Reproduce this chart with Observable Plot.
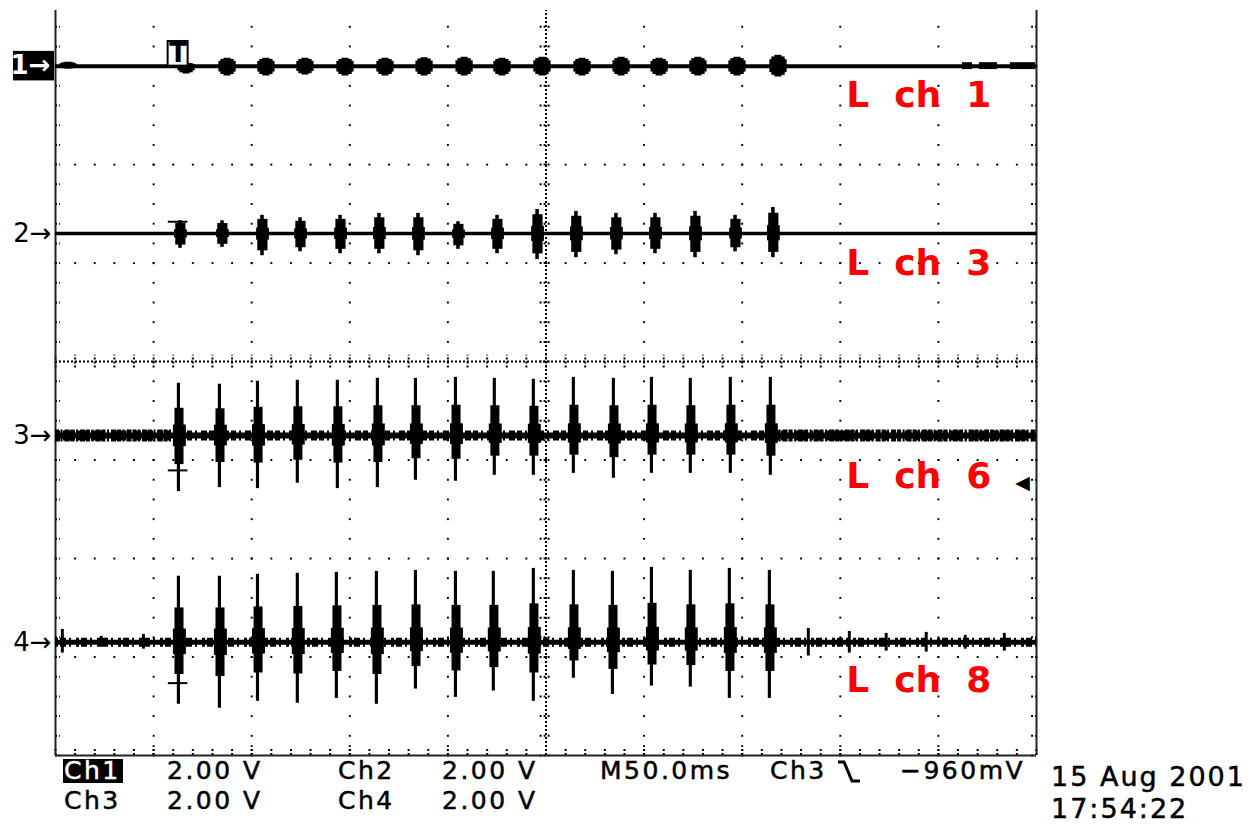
<!DOCTYPE html>
<html>
<head>
<meta charset="utf-8">
<script src="https://cdn.jsdelivr.net/npm/d3@7"></script>
<script src="https://cdn.jsdelivr.net/npm/@observablehq/plot@0.6"></script>
<style>
  html, body { margin: 0; padding: 0; background: #fff; }
  #wrap { position: relative; width: 1260px; height: 830px; overflow: hidden; background: #fff; }
  #wrap svg { position: absolute; left: 0; top: 0; }
  #wrap svg text { white-space: pre; }
  .ro { position: absolute; font-family: "DejaVu Sans", sans-serif; font-size: 25px; line-height: 28px; height: 28px; letter-spacing: 2.5px; color: #000; white-space: pre; -webkit-text-stroke: 0.5px #000; }
  .inv { background: #000; color: #fff; -webkit-text-stroke: 0.5px #fff; padding: 0 2px 0 1px; line-height: 24px; height: 24px; }
  .stamp { font-size: 27px; line-height: 31px; height: 31px; letter-spacing: 2px; }
</style>
</head>
<body>
<div id="wrap"></div>
<script>
// Timebase 50 ms/div (10 div = 500 ms); vertical 2.00 V/div (8 div)
const channelNames   = ["1", "2", "3", "4"];
const channelOffsetV = [6.0, 2.6, -1.5, -5.7];
const channelLabels  = ["L  ch  1", "L  ch  3", "L  ch  6", "L  ch  8"];
const triggerTimeMs  = 62.5;
const triggerLevelV  = -0.96;            // Ch3, falling edge, -960 mV
const triggerMarkV   = [0, 0.24, -0.71, -0.83]; // trigger cross marks on traces (relative to trace)

// Ch1 : small bursts
const ch1TimesMs = [66.8, 87.7, 107.5, 127.4, 147.8, 168.2, 188.1, 208.5, 227.8, 248.2, 268.6, 288.5, 307.9, 327.7, 347.6, 368.5];
const ch1UpV     = [0.06, 0.16, 0.16, 0.16, 0.16, 0.16, 0.17, 0.18, 0.16, 0.18, 0.16, 0.18, 0.16, 0.18, 0.18, 0.22];
const ch1DownV   = [0.16, 0.20, 0.20, 0.18, 0.20, 0.20, 0.20, 0.20, 0.20, 0.20, 0.20, 0.20, 0.20, 0.20, 0.20, 0.22];
const ch1ExtraTimesMs = [6.6];
const ch1ExtraUpV     = [0.08];
const ch1ExtraDownV   = [0.06];
const ch1NoiseFromMs  = [462.3, 470.9, 486.7];
const ch1NoiseToMs    = [467.4, 480.1, 499.5];

// Ch2 : bursts
const ch2TimesMs = [63.7, 85.1, 105.5, 124.9, 145.3, 165.1, 185.0, 205.4, 225.3, 245.7, 265.5, 285.9, 305.8, 326.2, 346.6, 365.9];
const ch2UpV     = [0.26, 0.26, 0.37, 0.32, 0.37, 0.41, 0.41, 0.24, 0.37, 0.49, 0.45, 0.41, 0.41, 0.45, 0.37, 0.53];
const ch2DownV   = [0.30, 0.28, 0.45, 0.37, 0.41, 0.41, 0.45, 0.32, 0.41, 0.53, 0.49, 0.43, 0.41, 0.49, 0.37, 0.49];

// Ch3 : spikes
const ch3TimesMs = [62.7, 83.6, 103.0, 123.3, 143.7, 164.1, 183.5, 203.9, 223.7, 243.6, 264.0, 284.4, 303.8, 323.6, 344.0, 364.4];
const ch3UpV     = [1.06, 1.04, 1.10, 1.12, 1.12, 1.16, 1.16, 1.18, 1.16, 1.14, 1.18, 1.16, 1.18, 1.16, 1.18, 1.18];
const ch3DownV   = [1.14, 1.06, 1.08, 0.97, 1.08, 1.06, 0.91, 0.93, 0.81, 0.81, 0.77, 0.87, 0.77, 0.77, 0.77, 0.81];
const ch3NoiseFromMs = [0, 366];
const ch3NoiseToMs   = [62, 500];

// Ch4 : spikes
const ch4TimesMs = [62.7, 83.6, 103.0, 123.3, 143.2, 163.6, 183.5, 203.9, 223.2, 243.6, 264.0, 283.9, 303.8, 323.6, 343.5, 363.9];
const ch4UpV     = [1.34, 1.34, 1.38, 1.40, 1.42, 1.44, 1.46, 1.44, 1.44, 1.50, 1.46, 1.44, 1.52, 1.46, 1.50, 1.46];
const ch4DownV   = [1.26, 1.34, 1.20, 1.24, 1.14, 1.26, 0.95, 1.12, 0.99, 1.20, 0.73, 1.06, 0.89, 0.91, 1.14, 1.14];
const ch4SmallTimesMs = [3.6, 23.4, 44.9, 383.8, 404.7, 423.5, 443.9, 463.8, 483.7];
const ch4SmallUpV     = [0.26, 0.12, 0.16, 0.28, 0.22, 0.18, 0.20, 0.14, 0.18];
const ch4SmallDownV   = [0.22, 0.10, 0.14, 0.28, 0.22, 0.18, 0.20, 0.14, 0.18];

// burst envelopes (time offset in ms, fraction of the burst's peak)
const blobEnvelope  = [{from: -4.4, to: 4.4, frac: 0.6}, {from: -3.4, to: 3.4, frac: 0.85}, {from: -1.8, to: 1.8, frac: 1}];
const ch2Envelope   = [{from: -3.0, to: 3.5, frac: 0.3}, {from: -2.4, to: 2.8, frac: 0.78}, {from: -0.9, to: 0.9, frac: 1}];
const spikeEnvelope = [{from: -2.6, to: 4.0, frac: 0.2}, {from: -1.8, to: 2.8, frac: 0.52}, {from: -0.6, to: 1.0, frac: 1}];
const thinEnvelope  = [{from: -0.6, to: 0.9, frac: 1}];

// ---------------- build tables ----------------
function envelopeRects(times, up, down, offset, env) {
  return times.flatMap((t, i) => env.map(e => ({
    x1: t + e.from, x2: t + e.to,
    y1: offset - e.frac * down[i], y2: offset + e.frac * up[i]
  })));
}
const [off1, off2, off3, off4] = channelOffsetV;
const burstRects = [
  ...envelopeRects(ch1TimesMs, ch1UpV, ch1DownV, off1, blobEnvelope),
  ...envelopeRects(ch1ExtraTimesMs, ch1ExtraUpV, ch1ExtraDownV, off1, blobEnvelope),
  ...envelopeRects(ch2TimesMs, ch2UpV, ch2DownV, off2, ch2Envelope),
  ...envelopeRects(ch3TimesMs, ch3UpV, ch3DownV, off3, spikeEnvelope),
  ...envelopeRects(ch4TimesMs, ch4UpV, ch4DownV, off4, spikeEnvelope),
  ...envelopeRects(ch4SmallTimesMs, ch4SmallUpV, ch4SmallDownV, off4, thinEnvelope)
];
const ch3Noise = ch3NoiseFromMs.map((f, i) => ({x1: f, x2: ch3NoiseToMs[i], y: off3}));
const ch1Noise = ch1NoiseFromMs.map((f, i) => ({x1: f, x2: ch1NoiseToMs[i], y1: off1 - 0.07, y2: off1 + 0.07}));
const channels = channelNames.map((n, i) => ({name: n, offset: channelOffsetV[i], label: channelLabels[i], mark: triggerMarkV[i]}));

// graticule (scale ticks)
const X0 = 0, X1 = 500, Y0 = -8, Y1 = 7.13;
const minorX = d3.range(0, 500.01, 10);
const minorY = d3.range(-8, Y1, 0.4);
const gridX = d3.range(50, 500, 50).filter(v => v !== 250);
const gridY = [-6, -4, -2, 2, 4, 6];
const gridDots = [
  ...gridX.flatMap(x => minorY.map(y => ({x, y}))),
  ...gridY.flatMap(y => minorX.map(x => ({x, y})))
];
const dash = {stroke: "black", strokeWidth: 2, strokeDasharray: "2,2"};

const labelShiftV = [0.6, 0.61, 0.84, 0.78];

const plot = Plot.plot({
  width: 1260, height: 757,
  marginLeft: 55, marginRight: 224, marginTop: 10, marginBottom: 2,
  x: {domain: [X0, X1], axis: null},
  y: {domain: [Y0, Y1], axis: null},
  style: {background: "white", overflow: "visible"},
  marks: [
    // graticule
    Plot.dot(gridDots, {x: "x", y: "y", symbol: "square", r: 1.1, fill: "black", stroke: null}),
    Plot.ruleX([250], {y1: Y0, y2: Y1, ...dash}),
    Plot.ruleY([0], {x1: X0, x2: X1, ...dash}),
    Plot.ruleY(minorY, {y: d => d, x1: 247, x2: 253, ...dash}),
    Plot.ruleX(minorX, {x: d => d, y1: -0.13, y2: 0.13, ...dash}),
    Plot.ruleY(minorY, {y: d => d, x1: 0, x2: 2.5, ...dash}),
    Plot.ruleY(minorY, {y: d => d, x1: 497.5, x2: 500, ...dash}),
    Plot.ruleX(minorX, {x: d => d, y1: -8, y2: -7.88, ...dash}),
    Plot.ruleX(d3.range(50, 500, 50), {x: d => d, y1: -8, y2: -7.8, ...dash}),
    Plot.ruleX([X0, X1], {y1: Y0, y2: Y1, stroke: "#222", strokeWidth: 2}),
    Plot.ruleY([Y0], {x1: X0, x2: X1, stroke: "#222", strokeWidth: 2}),

    // traces: baselines
    Plot.ruleY([off1], {x1: X0, x2: X1, stroke: "black", strokeWidth: 4}),
    Plot.ruleY([off2], {x1: X0, x2: X1, stroke: "black", strokeWidth: 3.5}),
    Plot.ruleY([off3], {x1: X0, x2: X1, stroke: "black", strokeWidth: 6}),
    Plot.ruleY([off3], {x1: X0, x2: X1, stroke: "black", strokeWidth: 10, strokeDasharray: "5,3,2,4,6,2"}),
    Plot.ruleY(ch3Noise, {y: "y", x1: "x1", x2: "x2", stroke: "black", strokeWidth: 12, strokeDasharray: "4,1.5,2,2,5,1"}),
    Plot.ruleY([off4], {x1: X0, x2: X1, stroke: "black", strokeWidth: 5}),
    Plot.ruleY([off4], {x1: X0, x2: X1, stroke: "black", strokeWidth: 9, strokeDasharray: "3,2,6,3,2,5"}),
    Plot.rect(ch1Noise, {x1: "x1", x2: "x2", y1: "y1", y2: "y2", fill: "black"}),
    // traces: bursts
    Plot.rect(burstRects, {x1: "x1", x2: "x2", y1: "y1", y2: "y2", fill: "black"}),

    // trigger marks
    Plot.ruleY(channels.slice(1), {y: d => d.offset + d.mark, x1: triggerTimeMs - 5, x2: triggerTimeMs + 5, stroke: "black", strokeWidth: 2}),
    Plot.rect([triggerTimeMs], {x1: d => d, x2: d => d, y1: off1, y2: off1 + 0.5, insetLeft: -10, insetRight: -10, fill: "white", stroke: "black", strokeWidth: 2}),
    Plot.text([triggerTimeMs], {x: d => d, y: off1 + 0.26, text: () => "T", fontSize: 26, fontWeight: "bold", fontFamily: "DejaVu Sans", fill: "black"}),
    Plot.text([triggerLevelV], {x: X1, y: d => off3 + d, text: () => "\u25C0", dx: -14, fontSize: 19, fontFamily: "DejaVu Sans", fill: "black"}),

    // channel markers
    Plot.rect([channels[0]], {x1: X0, x2: X0, y1: d => d.offset - 0.3, y2: d => d.offset + 0.3, insetLeft: -42, insetRight: 1, fill: "black"}),
    Plot.text([channels[0]], {x: X0, y: "offset", text: d => d.name + "\u2192", textAnchor: "end", dx: -5, fontSize: 26, fontWeight: "bold", fontFamily: "DejaVu Sans", fill: "white"}),
    Plot.text(channels.slice(1), {x: X0, y: "offset", text: d => d.name + "\u2192", textAnchor: "end", dx: -4, fontSize: 26, fontFamily: "DejaVu Sans", fill: "black"}),

    // red channel labels
    Plot.text(channels, {x: 403, y: (d, i) => d.offset - labelShiftV[i], text: "label", textAnchor: "start", fontSize: 36, fontWeight: "bold", fontFamily: "DejaVu Sans", fill: "#ff0000"})
  ]
});
const wrap = document.getElementById("wrap");
wrap.appendChild(plot);

// ---------------- readout below the graticule ----------------
const readoutRow1 = ["Ch1", "2.00 V", "Ch2", "2.00 V", "M50.0ms", "Ch3", "\u2212960mV"];
const readoutRow2 = ["Ch3", "2.00 V", "Ch4", "2.00 V"];
const stamp = ["15 Aug 2001", "17:54:22"];
const row1Left = [64, 167, 338, 442, 600, 770, 900];
const row2Left = [64, 167, 338, 442];
function addSpan(text, left, top, cls) {
  const s = document.createElement("span");
  s.className = "ro" + (cls ? " " + cls : "");
  s.textContent = text;
  s.style.left = left + "px";
  s.style.top = top + "px";
  wrap.appendChild(s);
  return s;
}
readoutRow1.forEach((t, i) => addSpan(t, i === 0 ? row1Left[i] - 1 : row1Left[i], i === 0 ? 759 : 757, i === 0 ? "inv" : ""));
readoutRow2.forEach((t, i) => addSpan(t, row2Left[i], 787));
addSpan(stamp[0], 1051, 761, "stamp");
addSpan(stamp[1], 1051, 793, "stamp");
// falling-edge trigger slope glyph
const ns = "http://www.w3.org/2000/svg";
const g = document.createElementNS(ns, "svg");
g.setAttribute("width", 24); g.setAttribute("height", 26);
g.style.position = "absolute"; g.style.left = "837px"; g.style.top = "760px";
const pl = document.createElementNS(ns, "polyline");
pl.setAttribute("points", "1,2 7,2 15,21 23,21");
pl.setAttribute("fill", "none"); pl.setAttribute("stroke", "black"); pl.setAttribute("stroke-width", "3");
g.appendChild(pl);
wrap.appendChild(g);
</script>
</body>
</html>
